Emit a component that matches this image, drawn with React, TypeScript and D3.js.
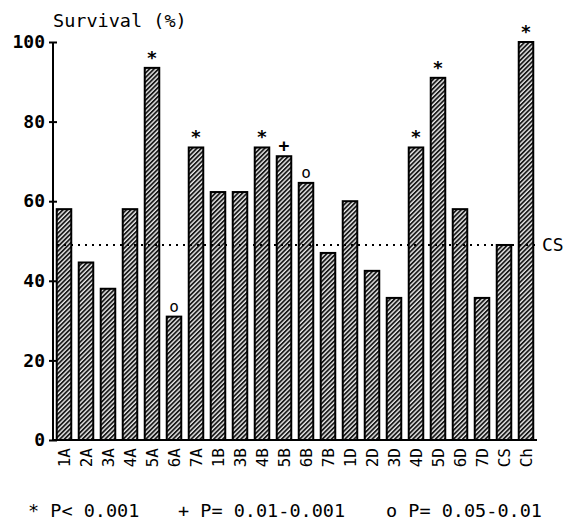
import React, { useEffect, useRef } from 'react';
import * as d3 from 'd3';

// groups along the x axis
const groups = ['1A', '2A', '3A', '4A', '5A', '6A', '7A', '1B', '3B', '4B', '5B', '6B', '7B',
  '1D', '2D', '3D', '4D', '5D', '6D', '7D', 'CS', 'Ch'];
// survival in percent
const survival = [58, 44.6, 38, 58, 93.5, 31, 73.5, 62.3, 62.3, 73.5, 71.3, 64.6, 47,
  60, 42.5, 35.7, 73.5, 91, 58, 35.7, 49, 100];
// significance mark over each bar ('' = none)
const marks = ['', '', '', '', '*', 'o', '*', '', '', '*', '+', 'o', '',
  '', '', '', '*', '*', '', '', '', '*'];
const yTicks = [0, 20, 40, 60, 80, 100];
const controlLevel = 49;
const legendItems = ['* P< 0.001', '+ P= 0.01-0.001', 'o P= 0.05-0.01'];

const FONT = '"DejaVu Sans Mono", "Liberation Mono", monospace';

export default function App() {
  const ref = useRef<SVGSVGElement>(null);

  useEffect(() => {
    const svg = d3.select(ref.current);
    svg.selectAll('*').remove();

    const left = 53, right = 537, top = 42, bottom = 440;

    const x = d3.scaleBand().domain(groups).range([left, right]).paddingInner(0.34).paddingOuter(0.17);
    const y = d3.scaleLinear().domain([0, 100]).range([bottom, top]);

    // hatch pattern for the bars
    const pat = svg.append('defs').append('pattern')
      .attr('id', 'hatch')
      .attr('patternUnits', 'userSpaceOnUse')
      .attr('width', 3.2).attr('height', 3.2)
      .attr('patternTransform', 'rotate(45)');
    pat.append('rect').attr('width', 3.2).attr('height', 3.2).attr('fill', '#e8e8e8');
    pat.append('rect').attr('width', 1.8).attr('height', 3.2).attr('fill', '#1a1a1a');

    // bars
    svg.append('g').selectAll('rect').data(groups).join('rect')
      .attr('x', d => x(d)!)
      .attr('y', (d, i) => y(survival[i]))
      .attr('width', x.bandwidth())
      .attr('height', (d, i) => bottom - y(survival[i]))
      .attr('fill', 'url(#hatch)')
      .attr('stroke', '#000')
      .attr('stroke-width', 2);

    // control level dotted line
    svg.append('line')
      .attr('x1', left + 4).attr('x2', right + 2)
      .attr('y1', y(controlLevel)).attr('y2', y(controlLevel))
      .attr('stroke', '#000').attr('stroke-width', 2)
      .attr('stroke-dasharray', '2 5');
    svg.append('text')
      .attr('x', right + 5).attr('y', y(controlLevel))
      .attr('dy', '0.36em')
      .attr('font-family', FONT).attr('font-size', 18)
      .text('CS');

    // marks above bars
    svg.append('g').selectAll('text').data(groups).join('text')
      .attr('x', d => x(d)! + x.bandwidth() / 2)
      .attr('y', (d, i) => y(survival[i]) - (marks[i] === 'o' ? 5 : 4))
      .attr('text-anchor', 'middle')
      .attr('font-family', FONT)
      .attr('font-size', (d, i) => marks[i] === 'o' ? 16 : 18)
      .attr('font-weight', (d, i) => marks[i] === 'o' ? 'normal' : 'bold')
      .text((d, i) => marks[i]);

    // y axis
    const yAxis = svg.append('g')
      .attr('transform', `translate(${left},0)`)
      .call(d3.axisLeft(y).tickValues(yTicks).tickSize(4).tickPadding(4).tickFormat(d3.format('d')));
    yAxis.select('.domain').attr('d', `M0,${top}V${bottom}`).attr('stroke-width', 2);
    yAxis.selectAll('.tick line').attr('x1', -4).attr('x2', 4).attr('stroke-width', 2);
    yAxis.selectAll('.tick text')
      .attr('font-family', FONT).attr('font-size', 18).attr('font-weight', 'bold').attr('fill', '#000');

    // x axis
    const xAxis = svg.append('g')
      .attr('transform', `translate(0,${bottom})`)
      .call(d3.axisBottom(x).tickSize(0).tickPadding(8));
    xAxis.select('.domain').attr('d', `M${left},0H${right}`).attr('stroke-width', 2);
    xAxis.selectAll('.tick text')
      .attr('font-family', FONT).attr('font-size', 16).attr('fill', '#000')
      .attr('transform', 'rotate(-90)')
      .attr('text-anchor', 'end')
      .attr('x', -8).attr('y', 0).attr('dy', '0.35em');

    // axis title
    svg.append('text')
      .attr('x', left).attr('y', 27)
      .attr('font-family', FONT).attr('font-size', 18.5)
      .text('Survival (%)');

    // legend
    const legendX = [28, 178, 386];
    svg.append('g').selectAll('text').data(legendItems).join('text')
      .attr('x', (d, i) => legendX[i]).attr('y', 517)
      .attr('font-family', FONT).attr('font-size', 18.5)
      .attr('xml:space', 'preserve')
      .text(d => d);
  }, []);

  return (
    <svg ref={ref} width={566} height={523}
      style={{ position: 'absolute', left: 0, top: 0, background: '#fff' }} />
  );
}
